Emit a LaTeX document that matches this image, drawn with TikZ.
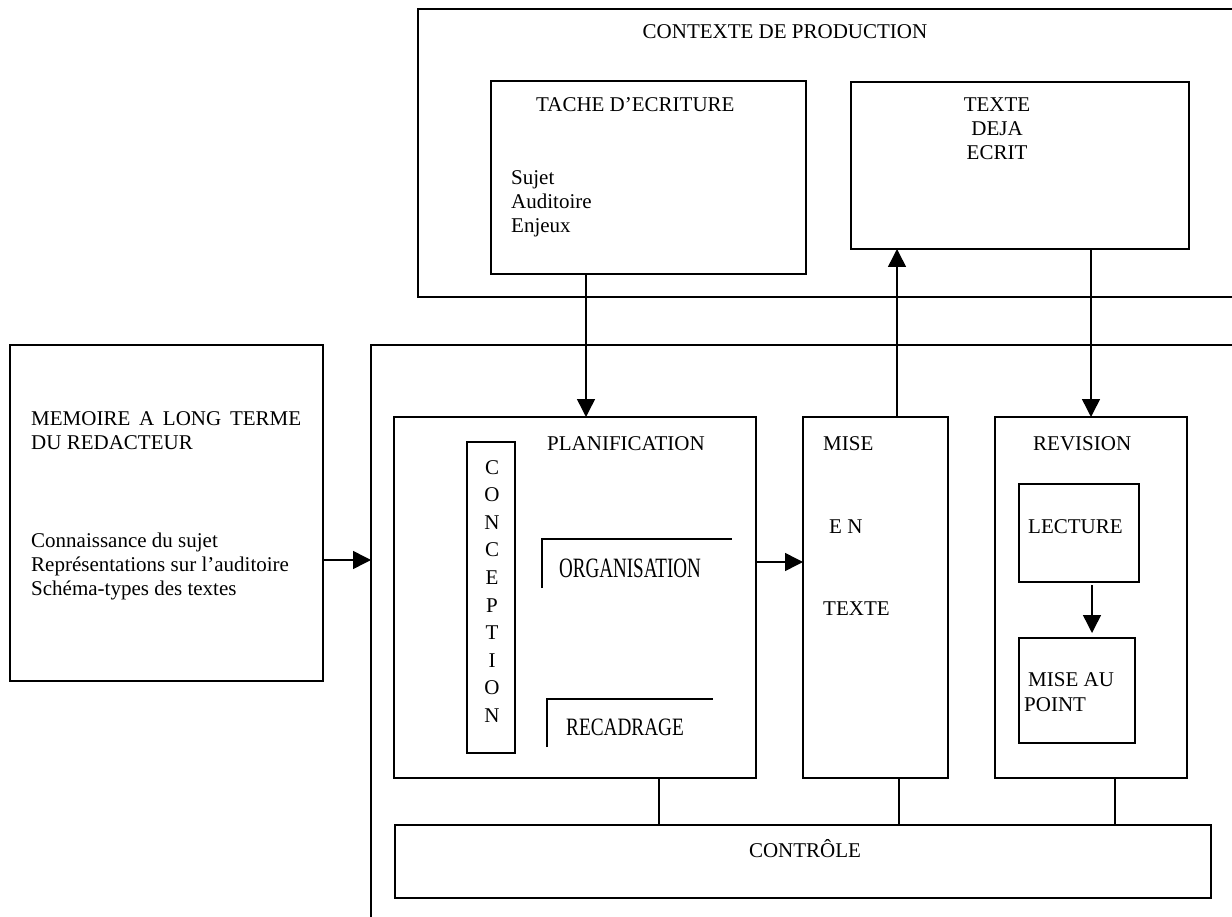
\documentclass[tikz,border=0pt]{standalone}
\usepackage{fontspec}
\usepackage{graphicx}
\setmainfont{Liberation Serif}
\usetikzlibrary{arrows.meta}
\begin{document}
\begin{tikzpicture}[x=1pt,y=-1pt, font=\fontsize{21}{24}\selectfont,
 bx/.style={draw, line width=1.5pt, inner sep=0pt, outer sep=0pt, anchor=north west},
 lbl/.style={inner sep=0pt, anchor=base west},
 clbl/.style={inner sep=0pt, anchor=base},
 arr/.style={line width=1.5pt, -{Triangle[length=18pt,width=18pt]}},
 ln/.style={line width=1.5pt}]
\useasboundingbox (0,0) rectangle (1232,917);

% outer frames
\draw[ln] (1232,9) -- (418,9) -- (418,297) -- (1232,297);
\draw[ln] (1232,345) -- (371,345) -- (371,917);
\coordinate (mainL) at (371,560);

% boxes
\node[bx, minimum width=315pt, minimum height=193pt] (tache) at (491,81) {};
\node[bx, minimum width=338pt, minimum height=167pt] (texte) at (851,82) {};
\node[bx, minimum width=313pt, minimum height=336pt] (mem) at (10,345) {};
\node[bx, minimum width=362pt, minimum height=361pt] (plan) at (394,417) {};
\node[bx, minimum width=48pt, minimum height=311pt] (conc) at (467,442) {};
\node[bx, minimum width=145pt, minimum height=361pt] (mise) at (803,417) {};
\node[bx, minimum width=192pt, minimum height=361pt] (rev) at (995,417) {};
\node[bx, minimum width=120pt, minimum height=98pt] (lect) at (1019,484) {};
\node[bx, minimum width=116pt, minimum height=105pt] (map) at (1019,638) {};
\node[bx, minimum width=816pt, minimum height=73pt] (ctrl) at (395,825) {};

% texts
\node[clbl] (tctx) at (785,39) {CONTEXTE DE PRODUCTION};
\node[lbl] (ttache) at (536,112) {TACHE D’ECRITURE};
\node[lbl] (tsujet) at (511,185) {Sujet};
\node[lbl] (taud) at (511,209) {Auditoire};
\node[lbl] (tenj) at (511,233) {Enjeux};
\node[clbl] (ttexte1) at (997,112) {TEXTE};
\node[clbl] (ttexte2) at (997,136) {DEJA};
\node[clbl] (ttexte3) at (997,160) {ECRIT};

\node[lbl] (tmem1) at (31,425) {\makebox[270pt][s]{MEMOIRE A LONG TERME}};
\node[lbl] (tmem2) at (31,449) {DU REDACTEUR};
\node[lbl] (tmem3) at (31,547) {Connaissance du sujet};
\node[lbl] (tmem4) at (31,571) {Représentations sur l’auditoire};
\node[lbl] (tmem5) at (31,595) {Schéma-types des textes};

\node[lbl] (tplan) at (547,450) {PLANIFICATION};
\foreach \ch [count=\i from 0] in {C,O,N,C,E,P,T,I,O,N}
  \node[clbl] (cc\i) at (492,474+27.6*\i) {\ch};
\node[lbl] (torg) at (559,577) {\scalebox{0.68}[1]{\fontsize{28}{28}\selectfont ORGANISATION}};
\node[lbl] (trec) at (566,735) {\scalebox{0.77}[1]{\fontsize{25}{25}\selectfont RECADRAGE}};
\draw[ln] (542,588) -- (542,539) -- (732,539);
\draw[ln] (547,747) -- (547,699) -- (713,699);

\node[lbl] (tmise1) at (823,450) {MISE};
\node[lbl] (tmise2) at (829,533) {E N};
\node[lbl] (tmise3) at (823,615) {TEXTE};

\node[lbl] (trev) at (1033,450) {REVISION};
\node[lbl] (tlect) at (1028,533) {LECTURE};
\node[lbl] (tmap1) at (1028,686) {MISE AU};
\node[lbl] (tmap2) at (1024,711) {POINT};

\node[clbl] (tctrl) at (805,857) {CONTRÔLE};

% connectors
\draw[arr] (tache.south -| 586,0) -- (plan.north -| 586,0);
\draw[arr] (mise.north -| 897,0) -- (texte.south -| 897,0);
\draw[arr] (texte.south -| 1091,0) -- (rev.north -| 1091,0);
\draw[arr] (mem.east |- 0,560) -- (mainL);
\draw[arr] (plan.east |- 0,562) -- (mise.west |- 0,562);
\draw[arr, shorten <=3pt, shorten >=5pt] (lect.south -| 1092,0) -- (map.north -| 1092,0);
\draw[ln] (plan.south -| 659,0) -- (ctrl.north -| 659,0);
\draw[ln] (mise.south -| 899,0) -- (ctrl.north -| 899,0);
\draw[ln] (rev.south -| 1115,0) -- (ctrl.north -| 1115,0);
\end{tikzpicture}
\end{document}
